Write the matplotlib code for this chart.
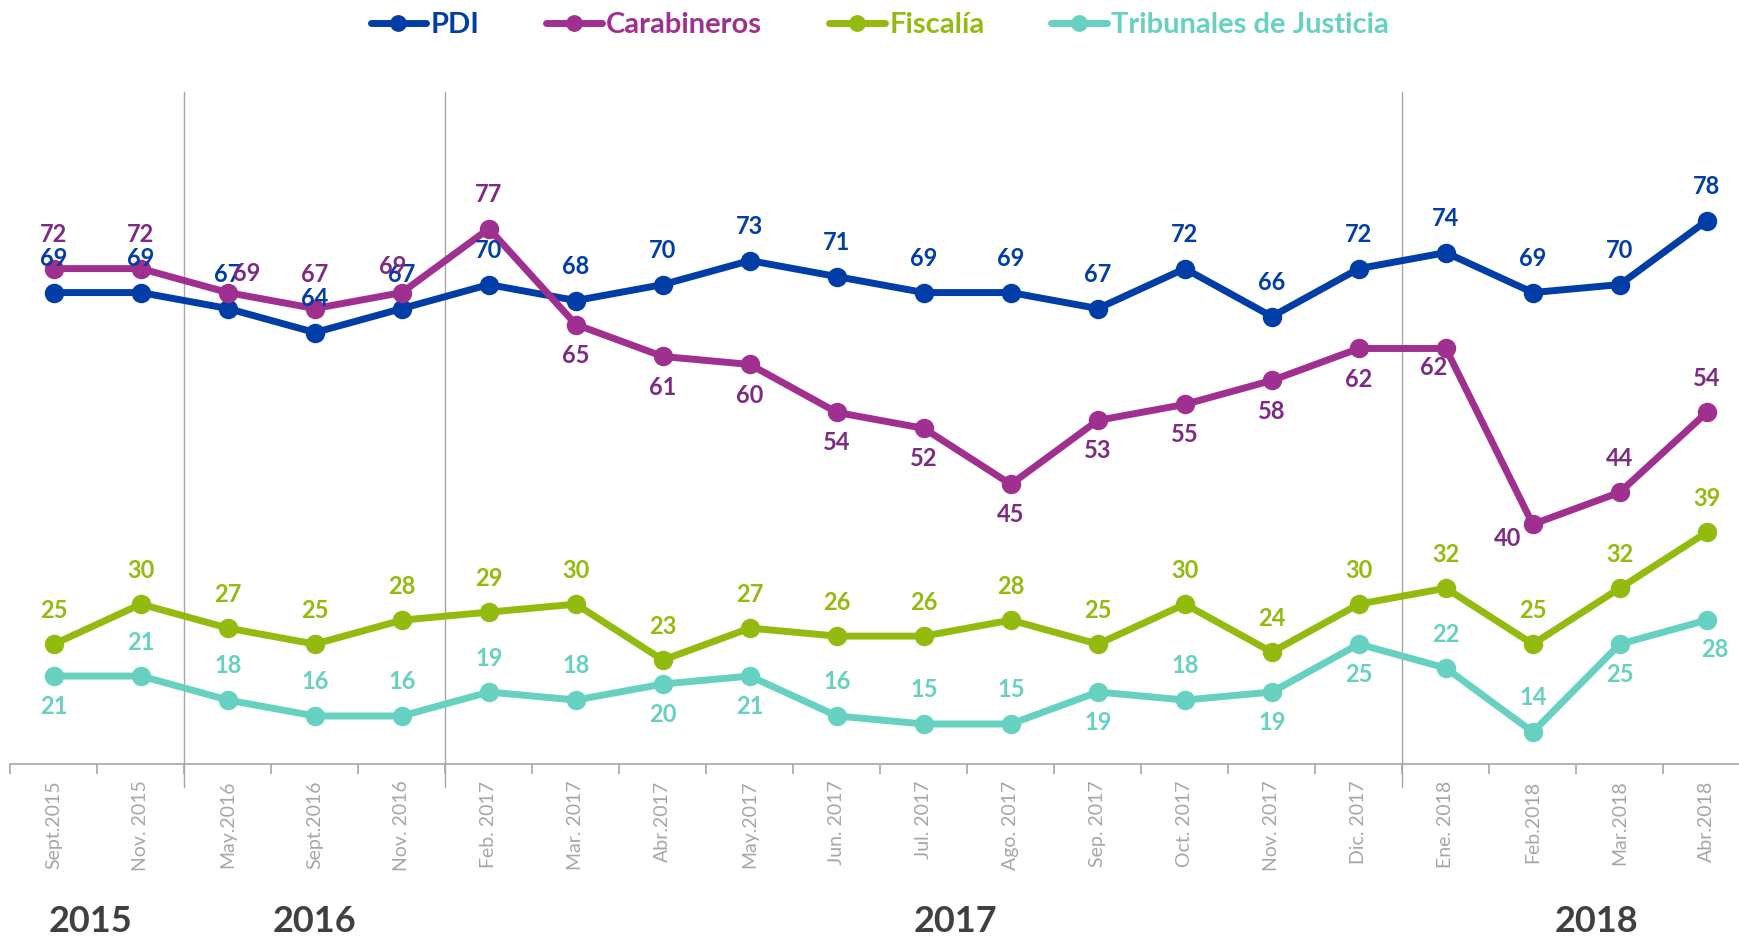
import matplotlib.pyplot as plt

# --- datos ---
meses = ['Sept.2015', 'Nov. 2015', 'May.2016', 'Sept.2016', 'Nov. 2016',
         'Feb. 2017', 'Mar. 2017', 'Abr.2017', 'May.2017', 'Jun. 2017',
         'Jul. 2017', 'Ago. 2017', 'Sep. 2017', 'Oct. 2017', 'Nov. 2017',
         'Dic. 2017', 'Ene. 2018', 'Feb.2018', 'Mar.2018', 'Abr.2018']
pdi = [69, 69, 67, 64, 67, 70, 68, 70, 73, 71, 69, 69, 67, 72, 66, 72, 74, 69, 70, 78]
carabineros = [72, 72, 69, 67, 69, 77, 65, 61, 60, 54, 52, 45, 53, 55, 58, 62, 62, 40, 44, 54]
fiscalia = [25, 30, 27, 25, 28, 29, 30, 23, 27, 26, 26, 28, 25, 30, 24, 30, 32, 25, 32, 39]
tribunales = [21, 21, 18, 16, 16, 19, 18, 20, 21, 16, 15, 15, 19, 18, 19, 25, 22, 14, 25, 28]
anios = ['2015', '2016', '2017', '2018']

# posicion de etiquetas: a = arriba, b = abajo, tupla = desplazamiento en pt
pos_pdi = ['a'] * 20
pos_carab = ['a', 'a', (13.7, 13.7), 'a', (-6.5, 19), 'a', 'b', 'b', 'b', 'b',
             'b', 'b', 'b', 'b', 'b', 'b', (-9, -14), (-18, -10), 'a', 'a']
pos_fisc = ['a'] * 20
pos_trib = ['b', 'a', 'a', 'a', 'a', 'a', 'a', 'b', 'b', 'a',
            'a', 'a', 'b', 'a', 'b', 'b', 'a', 'a', 'b', (6, -21)]

plt.rcParams['font.family'] = ['Lato', 'DejaVu Sans']

fig = plt.figure(figsize=(17.39, 9.40), dpi=100)
ax = fig.add_axes([0.006, 0.1873, 0.994, 0.7148])

x = list(range(len(meses)))
series = [
    ('PDI', pdi, '#003DA6', '#003DA6', pos_pdi),
    ('Carabineros', carabineros, '#A0308F', '#7E2A84', pos_carab),
    ('Fiscalía', fiscalia, '#93BA0F', '#93BA0F', pos_fisc),
    ('Tribunales de Justicia', tribunales, '#66D1C1', '#66D1C1', pos_trib),
]

handles = []
for nombre, vals, col, col_txt, posiciones in series:
    h, = ax.plot(x, vals, color=col, lw=5, marker='o', ms=13, label=nombre,
                 solid_capstyle='round', clip_on=False)
    handles.append(h)

for nombre, vals, col, col_txt, posiciones in series:
    for xi, v, p in zip(x, vals, posiciones):
        if p == 'a':
            off = (0, 24.5)
        elif p == 'b':
            off = (0, -22)
        else:
            off = p
        ax.annotate(str(v), (xi, v), xytext=off, textcoords='offset points',
                    ha='center', va='center', fontsize=17, fontweight='bold',
                    color=col_txt, zorder=10)

for s in ['top', 'right', 'left']:
    ax.spines[s].set_visible(False)
ax.spines['bottom'].set_color('#a6a6a6')
ax.spines['bottom'].set_linewidth(1.2)
ax.set_yticks([])

ax.set_xticks(x)
ax.set_xticklabels(meses, rotation=90, ha='center', va='top', fontsize=14, color='#a6a6a6')
ax.tick_params(axis='x', which='major', length=0, pad=12)
ax.set_xticks([i - 0.5 for i in range(len(meses) + 1)], minor=True)
ax.tick_params(axis='x', which='minor', length=7, color='#a6a6a6', width=1.2)

# limites despues de los ticks (set_xticks amplia la vista)
ax.set_xlim(-0.5, 19.37)
ax.set_ylim(10, 94.1)

# separadores de año
for xs in [1.5, 4.5, 15.5]:
    ax.axvline(xs, ymin=-0.0344, ymax=1.0, color='#a6a6a6', lw=1, clip_on=False, zorder=0)

# etiquetas de año
for txt, px in zip(anios, [91, 315, 955, 1596]):
    fig.text(px / 1739, 1 - 922 / 940, txt, ha='center', va='center',
             fontsize=26, fontweight='bold', color='#404040')

leg = fig.legend(handles=handles, loc='center', bbox_to_anchor=(0.506, 0.973),
                 ncol=4, frameon=False, fontsize=21, handlelength=1.9,
                 handletextpad=0.15, columnspacing=2.3, markerscale=0.85)
for t, (nombre, vals, col, col_txt, posiciones) in zip(leg.get_texts(), series):
    t.set_color(col)
    t.set_fontweight('bold')

fig.savefig('out.png', dpi=100)
